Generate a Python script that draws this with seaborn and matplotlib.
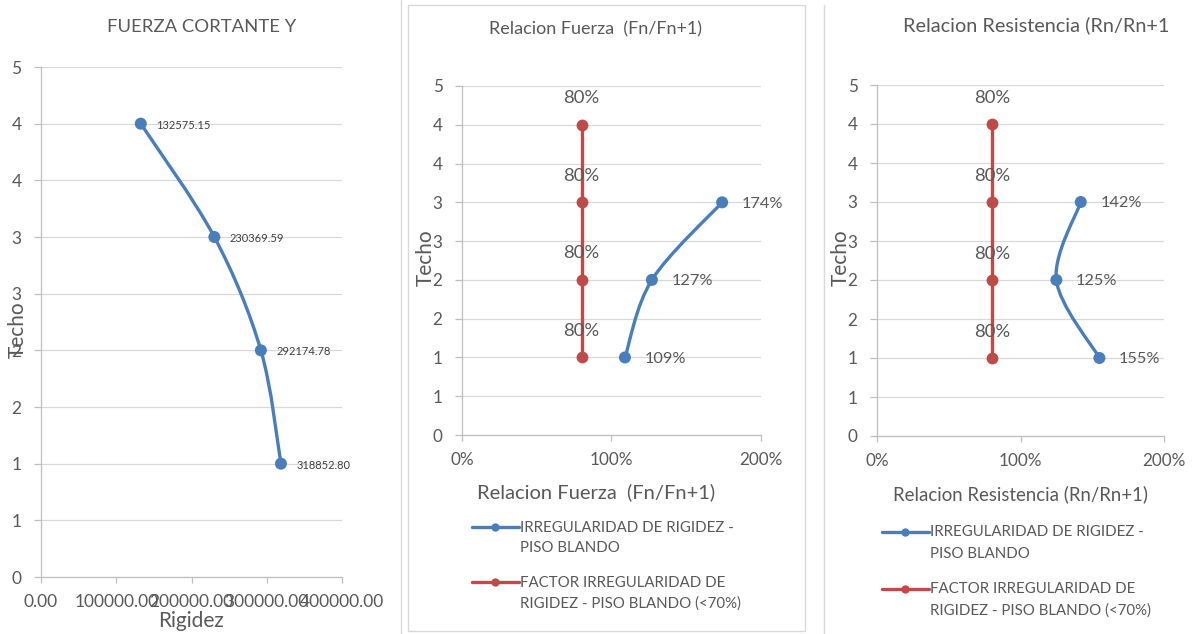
import numpy as np
import matplotlib
matplotlib.use("Agg")
import matplotlib.pyplot as plt
import seaborn as sns
from matplotlib.path import Path
from matplotlib.patches import PathPatch, Rectangle
from matplotlib.lines import Line2D
from matplotlib.legend_handler import HandlerLine2D
from matplotlib.ticker import FuncFormatter, MultipleLocator


# Datos
pisos = [4, 3, 2, 1]
rigidez = [132575.15, 230369.59, 292174.78, 318852.80]

pisos_rel = [1, 2, 3]
rel_fuerza = [1.09, 1.27, 1.74]
rel_resistencia = [1.55, 1.25, 1.42]

pisos_factor = [1, 2, 3, 4]
factor_limite = [0.80, 0.80, 0.80, 0.80]

titulos = ["FUERZA CORTANTE Y", "Relacion Fuerza  (Fn/Fn+1)", "Relacion Resistencia (Rn/Rn+1"]
xlabels = ["Rigidez", "Relacion Fuerza  (Fn/Fn+1)", "Relacion Resistencia (Rn/Rn+1)"]
serie_labels = ["IRREGULARIDAD DE RIGIDEZ -\nPISO BLANDO",
                "FACTOR IRREGULARIDAD DE\nRIGIDEZ - PISO BLANDO (<70%)"]

AZUL = "#4A7EBB"
ROJO = "#BE4B48"
GRIS_TXT = "#595959"
GRIS_EJE = "#BFBFBF"
GRIS_GRID = "#D9D9D9"

sns.set_theme(style="white")
plt.rcParams['font.family'] = ['Lato', 'DejaVu Sans']
plt.rcParams['text.color'] = GRIS_TXT
plt.rcParams['axes.labelcolor'] = GRIS_TXT
plt.rcParams['xtick.color'] = GRIS_TXT
plt.rcParams['ytick.color'] = GRIS_TXT

W, H = 1201, 634
fig = plt.figure(figsize=(W / 100, H / 100), dpi=100)


def rect_px(x0, x1, ytop, ybot):
    return [x0 / W, 1 - ybot / H, (x1 - x0) / W, (ybot - ytop) / H]


def smooth_path(x, y):
    # curva suavizada tipo Excel (Catmull-Rom -> Bezier)
    pts = np.column_stack([x, y]).astype(float)
    ext = np.vstack([pts[0], pts, pts[-1]])
    verts = [pts[0]]
    codes = [Path.MOVETO]
    for i in range(len(pts) - 1):
        p0, p1, p2, p3 = ext[i], ext[i + 1], ext[i + 2], ext[i + 3]
        verts += [p1 + (p2 - p0) / 6, p2 - (p3 - p1) / 6, p2]
        codes += [Path.CURVE4] * 3
    return Path(verts, codes)


def excel_round(v, _):
    return str(int(np.floor(v + 0.5 + 1e-9)))


def style_axes(ax, tick_size):
    ax.set_ylim(0, 4.5)
    ax.yaxis.set_major_locator(MultipleLocator(0.5))
    ax.yaxis.set_major_formatter(FuncFormatter(excel_round))
    ax.grid(axis='y', color=GRIS_GRID, lw=0.9)
    ax.grid(axis='x', visible=False)
    for s in ['top', 'right']:
        ax.spines[s].set_visible(False)
    for s in ['left', 'bottom']:
        ax.spines[s].set_color(GRIS_EJE)
        ax.spines[s].set_linewidth(0.9)
    ax.tick_params(axis='y', length=5, width=0.9, color=GRIS_EJE, pad=9, labelsize=tick_size, left=True)
    ax.tick_params(axis='x', length=4, width=0.9, color=GRIS_EJE, pad=8, labelsize=tick_size, bottom=True)
    ax.set_facecolor('white')


def blue_series(ax, x, y):
    ax.add_patch(PathPatch(smooth_path(x, y), facecolor='none', edgecolor=AZUL, lw=2.4, zorder=3))
    sns.scatterplot(x=x, y=y, color=AZUL, s=75, edgecolor='none', zorder=4, ax=ax, legend=False)


class TopLineHandler(HandlerLine2D):
    def create_artists(self, legend, orig_handle, xdescent, ydescent, width, height, fontsize, trans):
        arts = super().create_artists(legend, orig_handle, xdescent, ydescent, width, height, fontsize, trans)
        for a in arts:
            a.set_ydata(np.asarray(a.get_ydata(), dtype=float) + 0.75 * fontsize)
        return arts


# Panel 1: fuerza cortante
ax1 = fig.add_axes(rect_px(41, 342, 67, 577))
blue_series(ax1, rigidez, pisos)
style_axes(ax1, 12.5)
ax1.set_xlim(0, 400000)
ax1.xaxis.set_major_locator(MultipleLocator(100000))
ax1.xaxis.set_major_formatter(FuncFormatter(lambda v, _: f"{v:.2f}"))
for xv, yv in zip(rigidez, pisos):
    ax1.annotate(f"{xv:.2f}", (xv, yv), xytext=(11, -1), textcoords='offset points',
                 va='center', ha='left', fontsize=8, color="#404040")
ax1.set_title(titulos[0], fontsize=13.3, color=GRIS_TXT, x=0.535, y=1.063, va='center')
ax1.set_xlabel(xlabels[0], fontsize=15, va='center')
ax1.xaxis.set_label_coords(0.50, -0.086)
ax1.set_ylabel("Techo", fontsize=15, va='center')
ax1.yaxis.set_label_coords(-0.076, 0.484)

# Paneles 2 y 3: relaciones
panels = [
    (rect_px(462, 761, 86, 435), rel_fuerza, titulos[1], xlabels[1], 13, 14.5,
     (0.448, 1.138), (0.45, -0.163), (-0.12, 0.507), (472, 521), 1.55),
    (rect_px(877, 1164, 85, 436), rel_resistencia, titulos[2], xlabels[2], 14.3, 13.4,
     (0.554, 1.148), (0.50, -0.167), (-0.125, 0.507), (882, 525), 1.7),
]

handles = [Line2D([], [], color=AZUL, lw=2.4, marker='o', markersize=6, markeredgewidth=0),
           Line2D([], [], color=ROJO, lw=2.4, marker='o', markersize=6, markeredgewidth=0)]

for rect, valores, titulo, xlabel, tsize, xlsize, tpos, xlpos, ylpos, legpos, lsp in panels:
    ax = fig.add_axes(rect)
    sns.lineplot(x=factor_limite, y=pisos_factor, estimator=None, sort=False, color=ROJO,
                 lw=2.4, marker='o', markersize=8.5, markeredgewidth=0, zorder=3, ax=ax)
    blue_series(ax, valores, pisos_rel)
    style_axes(ax, 12.3)
    ax.set_xlim(0, 2)
    ax.xaxis.set_major_locator(MultipleLocator(1))
    ax.xaxis.set_major_formatter(FuncFormatter(lambda v, _: f"{v:.0%}"))
    for xv, yv in zip(factor_limite, pisos_factor):
        ax.annotate(f"{xv:.0%}", (xv, yv), xytext=(0, 19), textcoords='offset points',
                    va='center', ha='center', fontsize=13.3, color=GRIS_TXT)
    for xv, yv in zip(valores, pisos_rel):
        ax.annotate(f"{xv:.0%}", (xv, yv), xytext=(14, -1), textcoords='offset points',
                    va='center', ha='left', fontsize=11.8, color=GRIS_TXT)
    ax.set_title(titulo, fontsize=tsize, color=GRIS_TXT, x=tpos[0], y=tpos[1], va='center')
    ax.set_xlabel(xlabel, fontsize=xlsize, va='center')
    ax.xaxis.set_label_coords(*xlpos)
    ax.set_ylabel("Techo", fontsize=15, va='center')
    ax.yaxis.set_label_coords(*ylpos)
    leg = fig.legend(handles, serie_labels, loc='upper left',
                     bbox_to_anchor=(legpos[0] / W, 1 - legpos[1] / H),
                     frameon=False, fontsize=10.8, handlelength=3.1, handletextpad=0.12,
                     labelspacing=1.4, borderpad=0, borderaxespad=0,
                     handler_map={Line2D: TopLineHandler()})
    for t in leg.get_texts():
        t.set_color(GRIS_TXT)
        t.set_linespacing(lsp)

# marcos de los graficos
fig.patches.append(Rectangle((408 / W, 1 - 631 / H), 397 / W, 626 / H, transform=fig.transFigure,
                             facecolor='none', edgecolor=GRIS_GRID, lw=1.0))
fig.add_artist(Line2D([401 / W, 401 / W], [0, 1], color=GRIS_GRID, lw=1.0, transform=fig.transFigure))
fig.add_artist(Line2D([824 / W, 824 / W], [0, 1 - 5 / H], color=GRIS_GRID, lw=1.0, transform=fig.transFigure))

fig.savefig("out.png", dpi=100)
